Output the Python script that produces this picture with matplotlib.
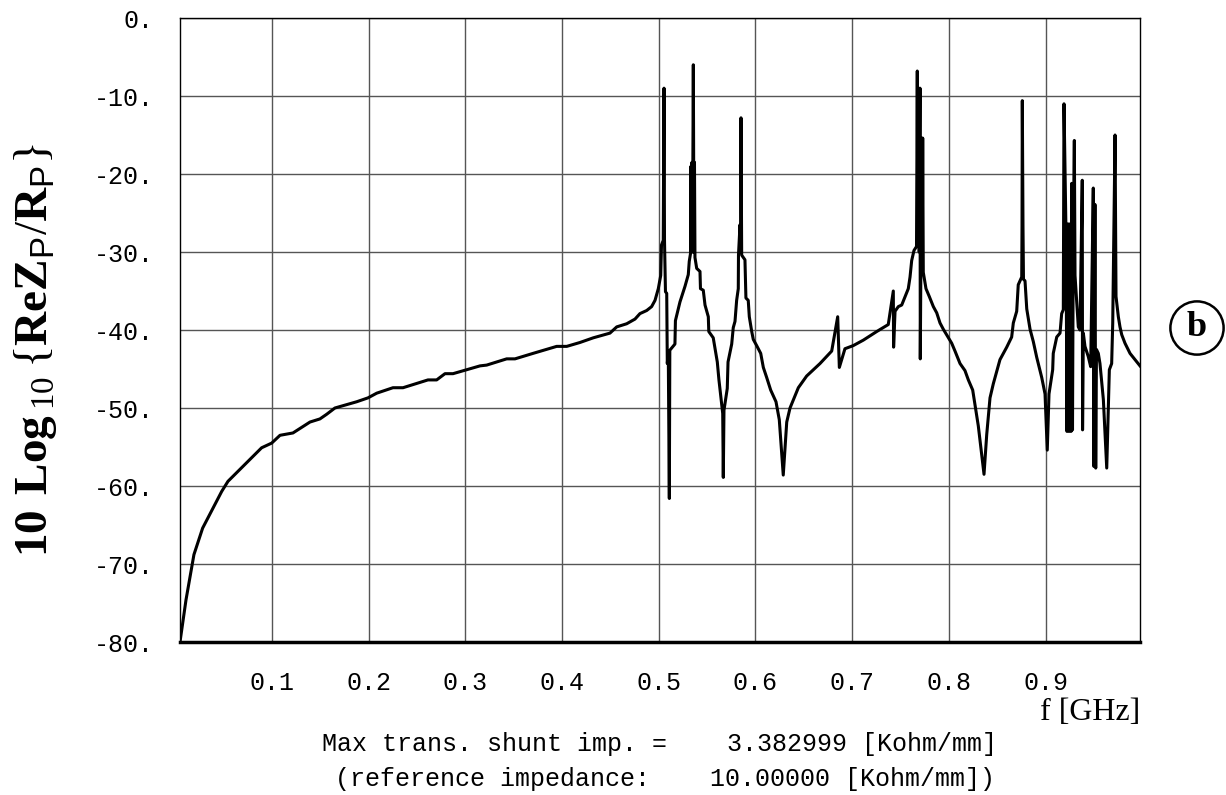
import matplotlib
matplotlib.use("Agg")
import matplotlib.pyplot as plt

plt.rcParams['mathtext.fontset'] = 'custom'
plt.rcParams['mathtext.rm'] = 'Liberation Serif'
plt.rcParams['mathtext.bf'] = 'Liberation Serif:bold'
plt.rcParams['mathtext.sf'] = 'Liberation Sans'

# frequency [GHz] and 10 log10(ReZp/Rp)
freq = [0.0049, 0.0111, 0.0193, 0.0283, 0.0480, 0.0545, 0.0893, 0.0997, 0.1083, 0.1217,
        0.1393, 0.1496, 0.1566, 0.1651, 0.1876, 0.1993, 0.2083, 0.2251, 0.2355, 0.2613,
        0.2703, 0.2789, 0.2872, 0.3151, 0.3220, 0.3427, 0.3513, 0.3699, 0.3944, 0.4048,
        0.4185, 0.4323, 0.4495, 0.4565, 0.4668, 0.4754, 0.4805, 0.4875, 0.4926, 0.4961,
        0.4995, 0.5020, 0.5028, 0.5046, 0.5054, 0.5059, 0.5069, 0.5082, 0.5088, 0.5098,
        0.5109, 0.5114, 0.5167, 0.5172, 0.5202, 0.5219, 0.5271, 0.5305, 0.5315, 0.5328,
        0.5333, 0.5338, 0.5343, 0.5348, 0.5357, 0.5364, 0.5369, 0.5374, 0.5392, 0.5426,
        0.5431, 0.5460, 0.5478, 0.5512, 0.5517, 0.5563, 0.5605, 0.5622, 0.5661, 0.5667,
        0.5674, 0.5708, 0.5716, 0.5754, 0.5770, 0.5788, 0.5805, 0.5822, 0.5824, 0.5840,
        0.5845, 0.5850, 0.5857, 0.5891, 0.5901, 0.5925, 0.5936, 0.5961, 0.5977, 0.6012,
        0.6054, 0.6081, 0.6116, 0.6157, 0.6212, 0.6246, 0.6287, 0.6323, 0.6357, 0.6443,
        0.6529, 0.6667, 0.6788, 0.6850, 0.6867, 0.6891, 0.6925, 0.7011, 0.7115, 0.7253,
        0.7373, 0.7425, 0.7428, 0.7443, 0.7477, 0.7512, 0.7580, 0.7598, 0.7615, 0.7639,
        0.7665, 0.7673, 0.7678, 0.7686, 0.7693, 0.7701, 0.7704, 0.7711, 0.7720, 0.7725,
        0.7729, 0.7735, 0.7763, 0.7797, 0.7839, 0.7874, 0.7908, 0.7942, 0.8029, 0.8063,
        0.8115, 0.8166, 0.8201, 0.8246, 0.8304, 0.8363, 0.8391, 0.8425, 0.8459, 0.8528,
        0.8598, 0.8649, 0.8666, 0.8701, 0.8717, 0.8753, 0.8756, 0.8759, 0.8766, 0.8771,
        0.8787, 0.8805, 0.8839, 0.8873, 0.8908, 0.8960, 0.8994, 0.9017, 0.9035, 0.9073,
        0.9079, 0.9115, 0.9149, 0.9166, 0.9183, 0.9190, 0.9211, 0.9221, 0.9232, 0.9242,
        0.9252, 0.9263, 0.9270, 0.9278, 0.9286, 0.9297, 0.9304, 0.9321, 0.9338, 0.9355,
        0.9379, 0.9382, 0.9390, 0.9407, 0.9441, 0.9466, 0.9493, 0.9500, 0.9510, 0.9518,
        0.9526, 0.9545, 0.9562, 0.9597, 0.9632, 0.9659, 0.9683, 0.9694, 0.9718, 0.9728,
        0.9752, 0.9769, 0.9787, 0.9821, 0.9873, 0.9924, 0.9976]
level = [-80.0, -74.6, -68.8, -65.4, -60.7, -59.4, -55.1, -54.5, -53.5, -53.2,
         -51.8, -51.4, -50.8, -50.0, -49.2, -48.7, -48.1, -47.4, -47.4, -46.4,
         -46.4, -45.6, -45.6, -44.6, -44.5, -43.7, -43.7, -43.0, -42.1, -42.1,
         -41.6, -41.0, -40.4, -39.6, -39.2, -38.6, -37.9, -37.5, -37.0, -36.2,
         -34.7, -33.0, -29.1, -28.5, -9.0, -28.5, -35.1, -35.3, -44.3, -42.8,
         -61.6, -42.6, -41.8, -38.8, -37.3, -36.4, -34.4, -32.9, -31.2, -30.2,
         -19.0, -30.0, -18.5, -30.0, -6.0, -30.0, -18.5, -30.7, -32.1, -32.5,
         -34.7, -34.9, -36.8, -38.3, -40.2, -41.0, -44.1, -46.4, -50.7, -58.9,
         -50.3, -47.5, -44.1, -41.8, -39.7, -38.9, -36.2, -34.7, -30.4, -26.5,
         -30.0, -12.8, -30.4, -31.0, -35.9, -36.2, -38.3, -40.2, -41.2, -42.0,
         -43.0, -44.8, -46.1, -47.7, -49.2, -51.5, -58.6, -51.8, -50.0, -47.4,
         -45.9, -44.3, -42.7, -38.3, -44.8, -43.8, -42.4, -42.0, -41.3, -40.2,
         -39.3, -35.0, -42.2, -37.6, -37.0, -36.8, -34.7, -33.2, -31.1, -29.8,
         -29.3, -6.8, -29.0, -9.0, -30.0, -9.0, -43.7, -30.0, -15.4, -30.0,
         -15.4, -32.6, -34.7, -35.7, -37.0, -37.8, -39.1, -39.9, -41.7, -42.7,
         -44.3, -45.2, -46.4, -47.7, -52.3, -58.5, -53.4, -48.7, -46.9, -43.8,
         -42.2, -40.9, -39.1, -37.6, -34.2, -33.2, -26.7, -10.6, -26.7, -33.5,
         -33.7, -37.3, -39.9, -41.5, -43.5, -46.1, -48.2, -55.4, -48.2, -45.1,
         -43.0, -40.9, -40.4, -37.9, -37.4, -11.0, -27.7, -53.0, -26.4, -53.0,
         -26.4, -53.0, -21.2, -52.8, -28.0, -15.7, -33.0, -36.2, -39.6, -40.0,
         -20.8, -52.8, -40.4, -42.1, -43.4, -44.7, -21.8, -57.5, -23.9, -57.7,
         -42.5, -43.0, -44.3, -48.9, -57.7, -45.1, -44.3, -39.1, -15.0, -35.7,
         -38.3, -39.6, -40.6, -41.7, -43.0, -43.8, -44.6]

xticks = [0.1, 0.2, 0.3, 0.4, 0.5, 0.6, 0.7, 0.8, 0.9]
yticks = [0, -10, -20, -30, -40, -50, -60, -70, -80]
max_shunt = 3.382999
ref_imp = 10.0

fig = plt.figure(figsize=(12.26, 7.95), dpi=100)
ax = fig.add_axes([180/1226, 1-642/795, 960/1226, 624/795])

ax.plot(freq, level, color='black', lw=2.2)
ax.set_xlim(0.0049, 0.9976)
ax.set_ylim(-80, 0)

ax.set_xticks(xticks)
ax.set_xticklabels(['%.1f' % t for t in xticks], family='Liberation Mono', fontsize=18)
ax.set_yticks(yticks)
ax.set_yticklabels(['%d.' % t for t in yticks], family='Liberation Mono', fontsize=18)
ax.tick_params(length=0)
ax.tick_params(axis='y', pad=19)
ax.tick_params(axis='x', pad=21)
ax.grid(True, color='#555555', lw=1.0)
for s in ['top', 'left', 'right']:
    ax.spines[s].set_linewidth(1.0)
ax.spines['bottom'].set_linewidth(2.5)

fig.text(36/1226, 1-350/795,
         r'$\mathbf{10\ Log}_{\,10}\,\{\mathbf{ReZ}_{\mathsf{P}}/\mathbf{R}_{\mathsf{P}}\}$',
         rotation=90, ha='center', va='center', fontsize=34)
fig.text(1140/1226, 1-712/795, 'f [GHz]', family='Liberation Serif',
         fontsize=23, ha='right', va='center')
fig.text(1197/1226, 1-328/795, 'b', family='Liberation Serif', weight='bold',
         fontsize=26, ha='center', va='center',
         bbox=dict(boxstyle='circle,pad=0.28', fc='white', ec='black', lw=1.8))
fig.text(660/1226, 1-744/795,
         'Max trans. shunt imp. =    %.6f [Kohm/mm]' % max_shunt,
         family='Liberation Mono', fontsize=18, ha='center', va='center')
fig.text(665/1226, 1-779/795,
         '(reference impedance:    %.5f [Kohm/mm])' % ref_imp,
         family='Liberation Mono', fontsize=18, ha='center', va='center')

fig.savefig('out.png', dpi=100)
